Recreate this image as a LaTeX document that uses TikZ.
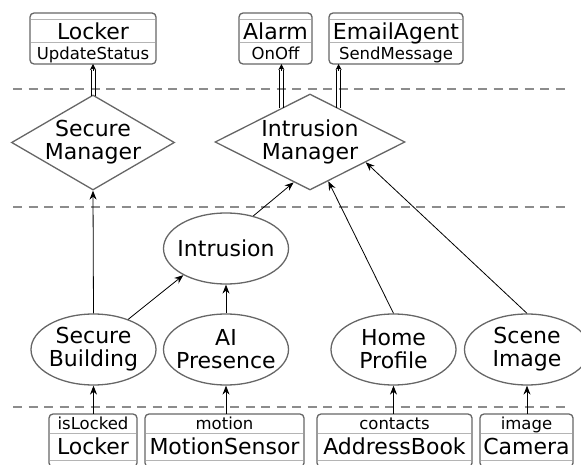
\documentclass[tikz,border=0pt]{standalone}
\usepackage{fontspec}
\setmainfont{DejaVu Sans}
\usetikzlibrary{shapes.geometric,arrows.meta,calc}
\definecolor{edgegray}{HTML}{666666}
\definecolor{sepgray}{HTML}{B4B4B4}
\definecolor{dashgray}{HTML}{8C8C8C}
\tikzset{
  bigfont/.style={font=\fontsize{22}{23}\selectfont},
  smallfont/.style={font=\fontsize{16.5}{18}\selectfont},
  bigtxt/.style={bigfont, inner sep=0pt, text height=16pt, text depth=0pt},
  smalltxt/.style={smallfont, inner sep=0pt, text height=12pt, text depth=0pt},
  ell/.style={ellipse, draw=edgegray, line width=1.3pt, minimum width=125pt, minimum height=71pt, inner sep=0pt},
  dia/.style={diamond, draw=edgegray, line width=1.3pt, inner sep=0pt},
  lbl/.style={bigfont, align=center, inner sep=0pt},
  box/.style={rectangle, rounded corners=4pt, draw=edgegray, line width=1.3pt, inner sep=0pt, outer sep=0pt},
  sepline/.style={draw=sepgray, line width=1pt},
  layer/.style={dashgray, line width=1.8pt, dash pattern=on 9pt off 6.5pt},
  arr/.style={line width=0.8pt, -{Stealth[length=9pt,width=7pt,inset=3pt]}},
  darr/.style={line width=0.8pt, -{Stealth[length=6pt,width=6pt,inset=1.5pt]}},
  rail/.style={line width=0.9pt},
}
\newcommand\mkTopBox[5]{%
  \node[box, minimum width=#3pt, minimum height=51pt] (#1) at (#2,38.5) {};
  \draw[sepline] ($(#1.north west)+(0.7,7)$) -- ($(#1.north east)+(-0.7,7)$);
  \draw[sepline] ($(#1.north west)+(0.7,30)$) -- ($(#1.north east)+(-0.7,30)$);
  \node[bigtxt] (#1-t) at ($(#1.north)+(0,18.5)$) {#4};
  \node[smalltxt] (#1-s) at ($(#1.north)+(0,40.5)$) {#5};
}
\newcommand\mkBotBox[5]{%
  \node[box, minimum width=#3pt, minimum height=53pt] (#1) at (#2,440.5) {};
  \draw[sepline] ($(#1.north west)+(0.7,19)$) -- ($(#1.north east)+(-0.7,19)$);
  \draw[sepline] ($(#1.north west)+(0.7,46)$) -- ($(#1.north east)+(-0.7,46)$);
  \node[smalltxt] (#1-s) at ($(#1.north)+(0,9.5)$) {#4};
  \node[bigtxt] (#1-t) at ($(#1.north)+(0,32.5)$) {#5};
}
% double connector: two rails from #1 (start) to #2 (end on box), plus a head
\newcommand\mkAction[2]{%
  \draw[rail] ($(#1)+(-2,0)$) -- ($(#2)+(-2,6)$);
  \draw[rail] ($(#1)+(2,0)$) -- ($(#2)+(2,6)$);
  \draw[darr] ($(#2)+(0,7)$) -- (#2);
}
\begin{document}
\begin{tikzpicture}[x=1pt,y=-1pt]
\useasboundingbox (0,0) rectangle (581,465);

% layer separators
\draw[layer] (13,89) -- (570,89);
\draw[layer] (13,207) -- (570,207);
\draw[layer] (13,407) -- (570,407);

% top boxes
\mkTopBox{tlk}{93}{126}{Locker}{UpdateStatus}
\mkTopBox{tal}{275.5}{73}{Alarm}{OnOff}
\mkTopBox{tem}{396}{134}{EmailAgent}{SendMessage}

% bottom boxes
\mkBotBox{blk}{93}{88}{isLocked}{Locker}
\mkBotBox{bms}{224.5}{159}{motion}{MotionSensor}
\mkBotBox{bab}{394.5}{155}{contacts}{AddressBook}
\mkBotBox{bca}{526.5}{93}{image}{Camera}

% managers
\node[dia, minimum width=163pt, minimum height=95pt, label={[lbl]center:{Secure\\Manager}}] (sm) at (93,142.5) {};
\node[dia, minimum width=190pt, minimum height=96pt, label={[lbl]center:{Intrusion\\Manager}}] (im) at (310,142) {};

% contexts
\node[ell, label={[lbl]center:{Intrusion}}] (int) at (226,248.5) {};
\node[ell, label={[lbl]center:{Secure\\Building}}] (sb) at (93.5,349.5) {};
\node[ell, label={[lbl]center:{AI\\Presence}}] (ai) at (226,349.5) {};
\node[ell, label={[lbl]center:{Home\\Profile}}] (hp) at (393.5,349.5) {};
\node[ell, label={[lbl]center:{Scene\\Image}}] (si) at (527,349.5) {};

% actions (double arrows)
\coordinate (smT) at ($(sm.north)+(0,1.5)$);
\mkAction{smT}{tlk.south}
\coordinate (imA) at (im.130);
\coordinate (alB) at (imA |- tal.south);
\mkAction{imA}{alB}
\coordinate (imE) at (im.50);
\coordinate (emB) at (imE |- tem.south);
\mkAction{imE}{emB}

% context arrows
\draw[arr] (sb.north) -- (sm.south);
\draw[arr] (sb.41) -- (int.212);
\draw[arr] (ai.north) -- (int.south);
\draw[arr] (int.50) -- (im.248);
\draw[arr] (hp.north) -- (im.295);
\draw[arr] (si.north) -- (im.340);

% sources
\draw[arr] (blk.north -| sb.south) -- (sb.south);
\draw[arr] (bms.north -| ai.south) -- (ai.south);
\draw[arr] (bab.north -| hp.south) -- (hp.south);
\draw[arr] (bca.north -| si.south) -- (si.south);
\end{tikzpicture}
\end{document}
